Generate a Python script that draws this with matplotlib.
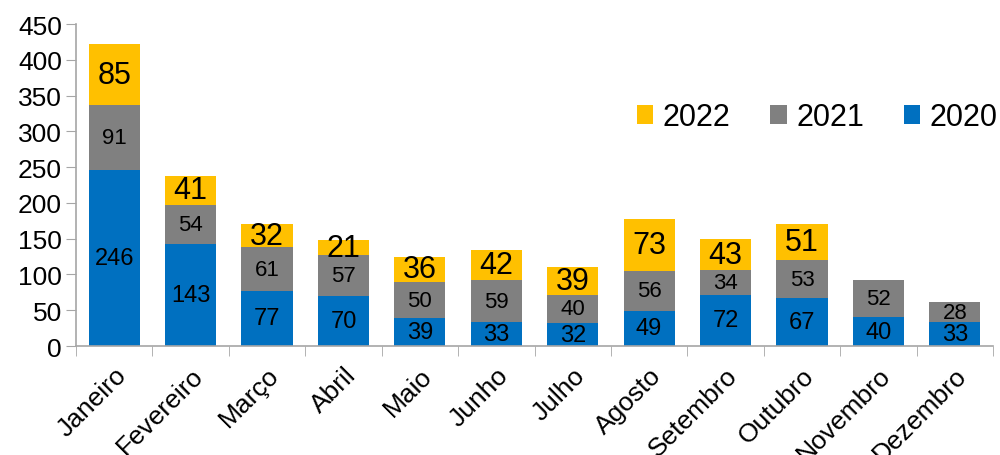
import numpy as np
import matplotlib.pyplot as plt
from matplotlib.ticker import FixedLocator, NullFormatter

plt.rcParams['font.family'] = ['Liberation Sans', 'DejaVu Sans']

# Data
meses = ['Janeiro', 'Fevereiro', 'Março', 'Abril', 'Maio', 'Junho', 'Julho',
         'Agosto', 'Setembro', 'Outubro', 'Novembro', 'Dezembro']
v2020 = [246, 143, 77, 70, 39, 33, 32, 49, 72, 67, 40, 33]
v2021 = [91, 54, 61, 57, 50, 59, 40, 56, 34, 53, 52, 28]
v2022 = [85, 41, 32, 21, 36, 42, 39, 73, 43, 51, 0, 0]

COR_2020 = '#0070C0'
COR_2021 = '#808080'
COR_2022 = '#FFC000'
GRID = '#A6A6A6'

fig = plt.figure(figsize=(10, 4.56), dpi=100)
ax = fig.add_axes([0.076, 0.239, 0.917, 0.706])

x = np.arange(len(meses))
w = 0.67
b20 = ax.bar(x, v2020, w, color=COR_2020, label='2020', zorder=2)
b21 = ax.bar(x, v2021, w, bottom=v2020, color=COR_2021, label='2021', zorder=2)
base22 = np.array(v2020) + np.array(v2021)
b22 = ax.bar(x, v2022, w, bottom=base22, color=COR_2022, label='2022', zorder=2)

# data labels
for i in range(len(meses)):
    ax.text(x[i], v2020[i] / 2, str(v2020[i]), ha='center', va='center', fontsize=17)
    ax.text(x[i], v2020[i] + v2021[i] / 2, str(v2021[i]), ha='center', va='center', fontsize=16)
    if v2022[i] > 0:
        ax.text(x[i], base22[i] + v2022[i] / 2, str(v2022[i]), ha='center', va='center', fontsize=22)

ax.set_xlim(-0.5, len(meses) - 0.5)
ax.set_ylim(0, 450)
ax.set_yticks(range(0, 451, 50))
ax.tick_params(axis='y', labelsize=19, length=7, color=GRID, pad=3)

ax.set_xticks(x)
ax.set_xticklabels(meses, rotation=45, ha='right', rotation_mode='anchor', fontsize=19)
ax.tick_params(axis='x', length=0, pad=12)
ax.xaxis.set_minor_locator(FixedLocator(np.arange(-0.5, len(meses), 1.0)))
ax.xaxis.set_minor_formatter(NullFormatter())
ax.tick_params(axis='x', which='minor', length=7, color=GRID)

for s in ['top', 'right']:
    ax.spines[s].set_visible(False)
for s in ['left', 'bottom']:
    ax.spines[s].set_color(GRID)
    ax.spines[s].set_linewidth(1.2)

ax.legend(handles=[b22, b21, b20], labels=['2022', '2021', '2020'], ncol=3,
          loc='center right', bbox_to_anchor=(1.035, 0.71), frameon=False,
          fontsize=22, handlelength=0.55, handleheight=0.55, handletextpad=0.3,
          columnspacing=1.3)

fig.savefig('out.png', dpi=100)
